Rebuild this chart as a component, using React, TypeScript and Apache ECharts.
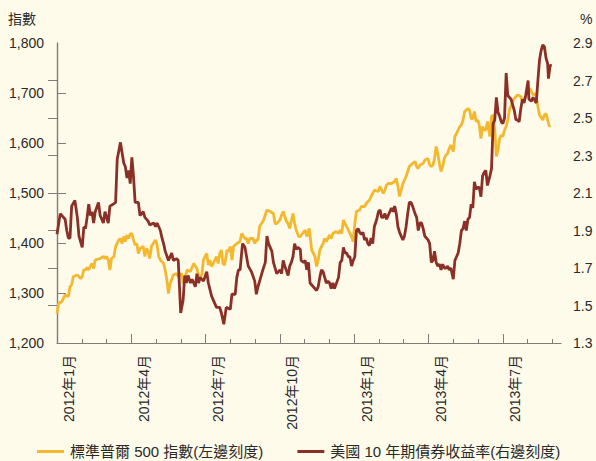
import React, { useEffect, useRef } from "react";
import * as echarts from "echarts";

// S&P 500 (left scale): day offsets from 2012-01-01 and index level
const spxDays = [0,2,6,10,14,16,18,20,25,29,31,33,35,37,39,41,43,45,47,49,53,57,59,61,63,65,67,70,72,76,78,80,82,84,86,88,90,92,94,96,98,100,102,106,108,110,112,114,116,121,123,125,127,131,133,135,137,139,143,147,149,153,155,160,164,168,172,174,178,180,182,184,186,188,190,192,196,198,200,202,204,206,209,211,213,215,217,221,225,227,231,233,235,237,241,243,245,247,249,254,258,262,266,268,270,274,276,278,282,284,286,290,292,294,297,299,305,307,310,313,317,319,321,323,327,329,331,335,337,339,343,346,348,350,352,354,356,358,360,362,364,366,368,372,374,378,380,384,386,388,390,395,397,399,401,403,405,407,411,415,417,419,421,423,425,429,431,433,437,440,442,444,446,450,452,456,458,460,462,464,466,468,470,472,474,476,478,480,482,484,487,489,491,495,497,499,501,503,505,507,509,511,513,515,517,519,521,523,525,527,529,532,534,536,538,540,542,544,546,548,550,552,554,556,560,562,566,570,572,576,581,583,585,587,589,591,593,597,599,601,603,605,606];
const spxValues = [1259,1279,1283,1296,1293,1313,1316,1333,1336,1329,1333,1347,1346,1351,1346,1353,1359,1349,1366,1367,1369,1373,1369,1373,1366,1346,1369,1373,1393,1406,1409,1399,1413,1403,1416,1409,1418,1419,1406,1396,1399,1379,1389,1393,1373,1389,1383,1369,1393,1406,1396,1373,1366,1359,1346,1326,1299,1319,1336,1339,1333,1339,1319,1346,1343,1359,1349,1333,1336,1366,1373,1379,1356,1366,1353,1359,1373,1359,1379,1386,1359,1356,1386,1383,1393,1366,1393,1399,1403,1419,1409,1409,1399,1409,1409,1399,1406,1406,1433,1446,1466,1463,1459,1439,1439,1446,1456,1463,1443,1439,1429,1459,1439,1426,1413,1413,1426,1413,1429,1386,1373,1353,1366,1386,1399,1409,1403,1416,1409,1419,1423,1419,1426,1419,1446,1439,1433,1426,1419,1413,1403,1439,1463,1466,1473,1473,1479,1486,1493,1499,1506,1503,1513,1506,1499,1506,1516,1519,1519,1523,1529,1513,1493,1506,1519,1533,1543,1553,1559,1563,1553,1549,1556,1559,1566,1569,1556,1553,1556,1569,1593,1579,1559,1543,1553,1569,1576,1579,1589,1596,1583,1613,1619,1633,1636,1646,1663,1666,1669,1666,1649,1649,1663,1643,1646,1636,1609,1633,1626,1626,1643,1613,1653,1656,1626,1573,1586,1609,1616,1613,1626,1633,1646,1666,1683,1689,1696,1693,1683,1693,1709,1703,1696,1699,1693,1673,1656,1646,1656,1659,1646,1633,1636];

// US 10-year Treasury yield (right scale, %)
const ustDays = [0,4,8,10,12,14,16,18,22,25,27,31,33,35,37,39,41,43,45,47,51,53,57,59,63,65,69,72,74,78,82,84,86,88,90,92,94,96,100,102,106,108,112,114,119,121,123,127,129,131,133,137,141,143,147,149,152,155,157,159,161,164,166,170,172,174,176,180,184,186,190,194,196,200,202,205,208,213,215,219,221,223,225,228,231,235,239,243,245,247,249,253,256,258,260,264,266,270,274,276,278,280,284,286,288,290,292,294,296,299,300,303,305,307,309,311,315,319,321,323,325,327,329,331,333,335,337,339,341,346,348,350,352,354,356,358,360,362,364,366,368,370,372,374,376,378,380,382,384,386,388,390,393,395,397,399,401,403,405,409,411,413,415,417,419,421,423,425,427,429,431,433,435,437,440,442,444,446,448,450,452,454,456,458,460,462,464,466,468,470,472,474,476,478,480,482,484,487,489,491,493,495,497,499,501,503,505,507,509,511,513,515,517,519,521,523,525,527,529,532,534,536,538,540,542,544,546,548,550,552,554,556,558,560,562,564,566,568,570,572,574,576,579,580,583,585,589,591,593,595,597,599,601,603,604,606,608];
const ustValues = [1.88,1.99,1.97,1.96,1.90,1.86,1.86,2.03,2.06,1.97,1.87,1.81,1.92,1.91,1.97,2.04,1.98,2.00,1.94,2.00,2.05,1.98,1.94,2.00,1.94,2.03,2.04,2.05,2.28,2.37,2.26,2.24,2.18,2.22,2.15,2.29,2.19,2.05,2.05,1.98,2.00,1.97,1.95,1.93,1.94,1.92,1.94,1.90,1.86,1.83,1.79,1.74,1.78,1.74,1.75,1.74,1.46,1.53,1.66,1.62,1.66,1.62,1.64,1.60,1.67,1.62,1.65,1.63,1.68,1.62,1.55,1.51,1.49,1.49,1.46,1.40,1.49,1.48,1.56,1.56,1.65,1.69,1.69,1.83,1.81,1.71,1.68,1.63,1.56,1.60,1.63,1.69,1.73,1.87,1.83,1.79,1.73,1.67,1.69,1.67,1.74,1.71,1.66,1.71,1.73,1.76,1.83,1.80,1.81,1.80,1.74,1.73,1.74,1.69,1.73,1.62,1.60,1.58,1.60,1.65,1.69,1.68,1.65,1.62,1.63,1.62,1.59,1.62,1.59,1.65,1.73,1.74,1.81,1.78,1.78,1.76,1.76,1.71,1.74,1.76,1.90,1.91,1.89,1.88,1.89,1.85,1.86,1.83,1.82,1.86,1.83,1.92,1.96,2.00,2.01,1.97,1.97,1.99,1.96,2.00,2.02,2.00,2.03,1.99,1.92,1.89,1.87,1.85,1.87,1.92,1.99,2.05,2.05,2.03,1.99,1.97,1.90,1.94,1.94,1.91,1.87,1.86,1.85,1.83,1.73,1.74,1.79,1.73,1.71,1.72,1.69,1.72,1.70,1.70,1.71,1.69,1.70,1.64,1.74,1.76,1.78,1.83,1.90,1.91,1.95,1.90,1.96,1.97,2.04,2.02,2.16,2.12,2.13,2.13,2.08,2.19,2.21,2.22,2.14,2.19,2.23,2.47,2.49,2.61,2.53,2.51,2.48,2.47,2.50,2.74,2.62,2.61,2.60,2.57,2.54,2.49,2.49,2.48,2.55,2.60,2.58,2.62,2.70,2.60,2.59,2.61,2.58,2.70,2.81,2.86,2.89,2.88,2.82,2.79,2.71,2.78,2.78];

const leftTicks = [1200, 1800, 100];
const rightTicks = [1.3, 2.9, 0.2];
const monthLabels = ["2012年1月", "2012年4月", "2012年7月", "2012年10月", "2013年1月", "2013年4月", "2013年7月"];
const labelMonthIndex = [0, 3, 6, 9, 12, 15, 18];
const seriesNames = ["標準普爾 500 指數(左邊刻度)", "美國 10 年期債券收益率(右邊刻度)"];

const X_MAX = 20.35;
const toMonths = (d: number) => (d * 12) / 365.25;

const BG = "#FEFBEA";
const AXIS = "#7f7d78";
const TEXT = "#2a2a2a";
const YELLOW = "#F4B82F";
const RED = "#8B3026";
const FONT = '"Liberation Sans", Arial, "Noto Sans CJK TC", sans-serif';

export default function App() {
  const ref = useRef<HTMLDivElement>(null);
  useEffect(() => {
    document.body.style.margin = "0";
    document.body.style.background = BG;
    const chart = echarts.init(ref.current!, undefined, { renderer: "svg" });
    const months: number[] = [];
    for (let i = 1; i <= 20; i++) months.push(i);
    const quarters = months.filter((m) => m % 3 === 0);
    const labelPos = labelMonthIndex.map((m) => m + 0.5);
    const yTicks = (t: number[]) => {
      const out: number[] = [];
      for (let v = t[0] + t[2]; v < t[1] - t[2] / 2; v += t[2]) out.push(Math.round(v * 10) / 10);
      return out;
    };
    chart.setOption({
      animation: false,
      backgroundColor: BG,
      textStyle: { fontFamily: FONT },
      grid: { left: 57, right: 35, top: 43, bottom: 118, containLabel: false },
      legend: {
        left: 37,
        top: 443,
        padding: 0,
        itemWidth: 27,
        itemHeight: 3,
        itemGap: 34,
        icon: "rect",
        data: seriesNames,
        textStyle: { fontSize: 15, lineHeight: 17, color: TEXT, fontFamily: FONT, padding: [0, 0, 0, 1] },
      },
      graphic: [
        { type: "text", left: 8, top: 12, style: { text: "指數", fontSize: 14, fill: TEXT, fontFamily: FONT } },
        { type: "text", left: 580, top: 12, style: { text: "%", fontSize: 14, fill: TEXT, fontFamily: FONT } },
      ],
      xAxis: [
        {
          type: "value",
          min: 0,
          max: X_MAX,
          position: "bottom",
          splitLine: { show: false },
          axisLine: { show: true, lineStyle: { color: AXIS, width: 1.2 } },
          axisTick: { show: true, inside: true, length: 4, customValues: months, lineStyle: { color: AXIS, width: 1 } },
          axisLabel: {
            show: true,
            customValues: labelPos,
            rotate: 90,
            margin: 12,
            fontSize: 14,
            color: TEXT,
            fontFamily: FONT,
            formatter: (v: number) => {
              const i = labelMonthIndex.indexOf(Math.round(v - 0.5));
              return i >= 0 ? monthLabels[i] : "";
            },
          },
        },
        {
          type: "value",
          min: 0,
          max: X_MAX,
          position: "bottom",
          splitLine: { show: false },
          axisLine: { show: false },
          axisTick: { show: true, inside: true, length: 9, customValues: quarters, lineStyle: { color: AXIS, width: 1 } },
          axisLabel: { show: false },
        },
      ],
      yAxis: [
        {
          type: "value",
          min: leftTicks[0],
          max: leftTicks[1],
          interval: leftTicks[2],
          position: "left",
          splitLine: { show: false },
          axisLine: { show: true, lineStyle: { color: AXIS, width: 1.2 } },
          axisTick: { show: true, inside: true, length: 9, customValues: yTicks(leftTicks), lineStyle: { color: AXIS, width: 1 } },
          axisLabel: {
            margin: 13,
            fontSize: 14,
            color: TEXT,
            fontFamily: FONT,
            formatter: (v: number) => v.toLocaleString("en-US"),
          },
        },
        {
          type: "value",
          min: rightTicks[0],
          max: rightTicks[1],
          interval: rightTicks[2],
          position: "right",
          splitLine: { show: false },
          axisLine: { show: true, lineStyle: { color: AXIS, width: 1.2 } },
          axisTick: { show: true, inside: true, length: 9, customValues: yTicks(rightTicks), lineStyle: { color: AXIS, width: 1 } },
          axisLabel: {
            margin: 12,
            fontSize: 14,
            color: TEXT,
            fontFamily: FONT,
            formatter: (v: number) => v.toFixed(1),
          },
        },
      ],
      series: [
        {
          name: seriesNames[0],
          type: "line",
          xAxisIndex: 0,
          yAxisIndex: 0,
          showSymbol: false,
          color: YELLOW,
          lineStyle: { width: 2.8, color: YELLOW },
          data: spxDays.map((d, i) => [toMonths(d), spxValues[i]]),
        },
        {
          name: seriesNames[1],
          type: "line",
          xAxisIndex: 0,
          yAxisIndex: 1,
          showSymbol: false,
          color: RED,
          lineStyle: { width: 2.8, color: RED },
          data: ustDays.map((d, i) => [toMonths(d), ustValues[i]]),
        },
      ],
    });
    return () => chart.dispose();
  }, []);
  return <div ref={ref} style={{ position: "fixed", left: 0, top: 0, width: 596, height: 461 }} />;
}
